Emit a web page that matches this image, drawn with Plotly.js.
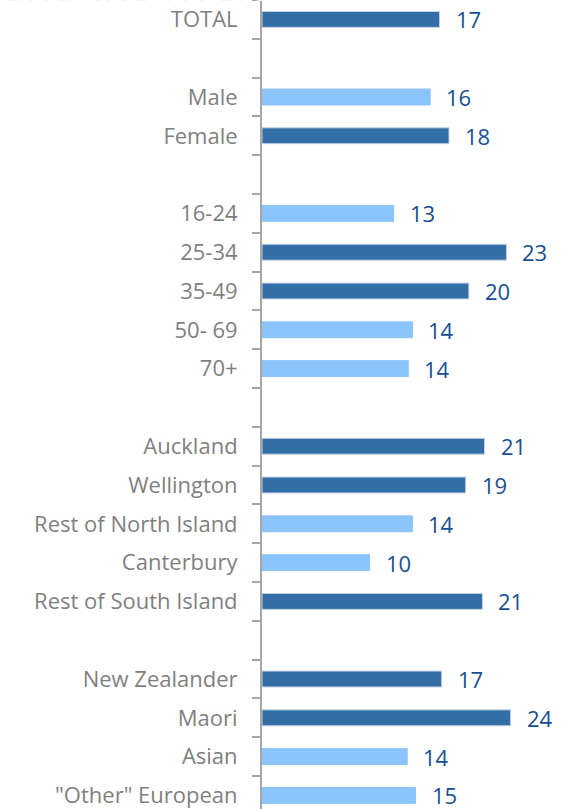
<!DOCTYPE html>
<html>
<head>
<meta charset="utf-8">
<script src="https://cdn.plot.ly/plotly-3.0.1.min.js"></script>
<style>html,body{margin:0;padding:0;background:#fff;}#chart{width:566px;height:809px;}</style>
</head>
<body>
<div id="chart"></div>
<script>
// Categories (blank entries are spacer rows between groups)
const categories = ["TOTAL", " ", "Male", "Female", "  ", "16-24", "25-34", "35-49", "50- 69", "70+", "   ",
  "Auckland", "Wellington", "Rest of North Island", "Canterbury", "Rest of South Island", "    ",
  "New Zealander", "Maori", "Asian", "\"Other\" European"];
// Bar lengths (null for spacer rows)
const values = [17.0, null, 16.1, 17.9, null, 12.6, 23.4, 19.8, 14.4, 14.0, null,
  21.3, 19.5, 14.4, 10.3, 21.1, null, 17.2, 23.8, 13.9, 14.7];
// Displayed value labels
const labels = ["17", "", "16", "18", "", "13", "23", "20", "14", "14", "",
  "21", "19", "14", "10", "21", "", "17", "24", "14", "15"];
// Which bars are drawn in the darker shade
const highlighted = [true, false, false, true, false, false, true, true, false, false, false,
  true, true, false, false, true, false, true, true, false, false];
const titleText = "and the rivers";

const DARK = "#336ea6", LIGHT = "#8ac4fb";
const FONT = "'Open Sans', sans-serif";
const colors = highlighted.map(h => h ? DARK : LIGHT);
const lineColors = highlighted.map(h => h ? "#c5d3e4" : LIGHT);

const annotations = [];
categories.forEach((c, i) => {
  if (values[i] === null) return;
  annotations.push({
    x: values[i], y: c, xref: "x", yref: "y", text: labels[i], showarrow: false,
    xanchor: "left", yanchor: "middle", xshift: 14,
    font: {family: FONT, size: 22, color: "#164f91"}
  });
});
annotations.push({
  x: 0, y: 1, xref: "paper", yref: "paper", text: titleText, showarrow: false,
  xanchor: "left", yanchor: "middle", xshift: -262, yshift: 16,
  font: {family: FONT, size: 42, color: "#f4f4f4"}
});

const trace = {
  type: "bar", orientation: "h", x: values, y: categories,
  marker: {color: colors, line: {color: lineColors, width: 1}},
  hoverinfo: "none", cliponaxis: false
};

const layout = {
  width: 566, height: 809,
  margin: {l: 262, r: 0, t: 0, b: 0, pad: 0},
  paper_bgcolor: "#fff", plot_bgcolor: "#fff",
  bargap: 0.59, showlegend: false,
  xaxis: {range: [0, 29.1], showgrid: false, zeroline: false, showticklabels: false, ticks: "", showline: false, fixedrange: true},
  yaxis: {
    type: "category", categoryorder: "array", categoryarray: categories,
    range: [20.35, -0.5],
    showgrid: false, zeroline: false,
    showline: true, linecolor: "#a6a6a6", linewidth: 2,
    ticks: "outside", ticklen: 8, tickwidth: 2, tickcolor: "#a6a6a6",
    tickson: "boundaries", ticklabelstandoff: 18,
    tickfont: {family: FONT, size: 22, color: "#7f7f7f"},
    fixedrange: true
  },
  annotations: annotations
};

Plotly.newPlot("chart", [trace], layout, {displayModeBar: false, staticPlot: true});
</script>
</body>
</html>
